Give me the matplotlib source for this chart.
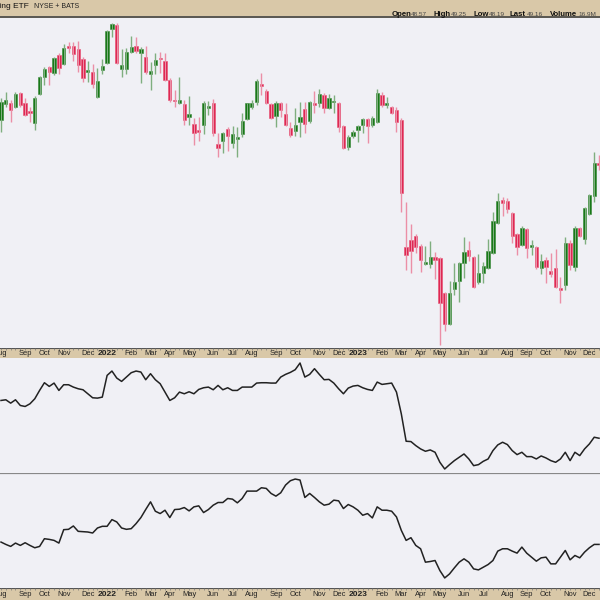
import matplotlib
matplotlib.use("Agg")
import matplotlib.pyplot as plt
import numpy as np
import pandas as pd

plt.rcParams["font.family"] = ["Liberation Sans", "DejaVu Sans"]

# weekly bars, KRE, Aug 2021 - Dec 2023
weeks = pd.date_range("2021-08-02", periods=125, freq="W-MON")

opens = [65.0, 67.0, 67.13, 66.63, 68.38, 67.13, 66.13, 64.63, 68.25, 70.38,
         71.63, 70.88, 73.13, 72.0, 74.25, 74.25, 73.88, 72.63, 71.0, 71.0,
         67.88, 71.25, 72.13, 76.38, 76.88, 71.38, 71.38, 73.5, 74.25, 73.38,
         72.88, 70.75, 71.88, 72.75, 72.38, 70.0, 67.5, 67.13, 67.0, 65.38,
         64.5, 63.75, 64.38, 66.5, 67.13, 62.0, 62.38, 63.88, 62.13, 62.63,
         63.25, 65.13, 66.63, 67.25, 69.5, 68.63, 67.0, 65.5, 67.13, 65.75,
         64.0, 63.63, 64.75, 66.38, 64.88, 67.13, 67.13, 68.13, 66.5, 67.25,
         67.13, 64.25, 61.63, 63.0, 63.75, 64.38, 65.13, 64.38, 64.75, 68.13,
         66.88, 66.63, 66.25, 65.0, 49.13, 50.0, 50.5, 49.25, 47.0, 47.0,
         47.88, 47.75, 43.38, 39.5, 43.88, 44.88, 47.13, 48.75, 47.88, 44.75,
         45.88, 46.5, 48.38, 52.13, 55.0, 54.88, 53.38, 50.75, 49.38, 51.38,
         49.13, 49.13, 46.5, 47.5, 46.13, 46.5, 44.0, 44.38, 49.63, 46.63,
         51.5, 50.13, 53.25, 55.5, 59.63]
closes = [67.25, 67.5, 66.25, 68.25, 66.88, 65.63, 65.88, 67.75, 70.38, 71.38,
          71.0, 72.75, 71.5, 74.0, 74.0, 73.25, 71.88, 70.25, 71.25, 69.5,
          69.88, 71.75, 76.13, 77.0, 72.13, 71.88, 73.5, 74.13, 73.63, 73.88,
          71.0, 71.13, 72.5, 72.63, 70.0, 67.5, 67.38, 67.5, 65.0, 65.75,
          63.38, 63.5, 67.13, 66.75, 63.38, 61.5, 63.38, 63.0, 63.25, 62.88,
          64.88, 67.13, 67.13, 69.88, 69.25, 67.13, 65.25, 67.13, 66.25, 64.38,
          63.13, 64.38, 65.38, 64.5, 67.25, 66.88, 68.25, 66.5, 67.75, 67.38,
          64.13, 61.5, 62.88, 63.5, 64.25, 65.13, 64.25, 65.25, 68.38, 66.88,
          67.13, 65.88, 64.75, 55.88, 48.13, 48.63, 49.13, 47.5, 47.25, 47.88,
          47.5, 42.13, 39.5, 43.38, 44.75, 47.13, 48.5, 48.0, 44.13, 45.88,
          46.75, 48.63, 52.38, 54.88, 54.63, 53.88, 50.5, 49.13, 51.5, 49.0,
          49.38, 46.63, 47.38, 46.63, 45.75, 44.13, 43.75, 49.63, 46.88, 51.5,
          50.5, 54.0, 55.63, 59.63, 59.38]
highs = [67.75, 68.5, 67.5, 68.5, 68.5, 67.75, 66.63, 68.0, 70.5, 71.63,
         71.75, 72.88, 73.38, 74.5, 74.75, 74.75, 74.88, 72.88, 72.38, 72.0,
         71.5, 72.63, 76.25, 77.13, 77.13, 73.88, 74.0, 75.5, 75.38, 74.13,
         74.25, 72.25, 73.38, 73.5, 73.38, 70.25, 68.75, 70.38, 67.5, 68.0,
         65.25, 65.38, 67.38, 67.38, 67.63, 63.38, 63.5, 64.13, 64.25, 64.13,
         65.88, 67.13, 67.5, 70.13, 70.88, 68.88, 67.13, 67.38, 67.25, 67.13,
         64.75, 66.5, 67.25, 67.25, 67.38, 68.63, 68.88, 68.38, 68.25, 68.13,
         67.25, 64.38, 63.13, 63.75, 64.38, 65.25, 65.25, 65.5, 68.88, 68.5,
         67.88, 66.75, 66.63, 65.25, 54.75, 52.0, 50.75, 49.5, 49.25, 49.88,
         48.5, 47.88, 43.5, 44.88, 47.13, 47.25, 50.38, 49.88, 48.0, 48.25,
         47.25, 50.13, 53.5, 55.88, 55.38, 55.25, 53.5, 50.88, 51.75, 51.5,
         50.0, 49.25, 48.25, 47.88, 48.38, 48.88, 45.38, 50.38, 50.0, 51.75,
         51.63, 54.13, 55.75, 61.0, 60.63]
lows = [63.5, 66.63, 64.75, 66.5, 66.63, 65.5, 64.75, 63.75, 68.13, 69.38,
        69.38, 70.63, 70.75, 71.88, 73.38, 72.38, 71.0, 69.75, 69.75, 69.0,
        67.75, 70.75, 72.0, 75.38, 72.0, 70.38, 70.75, 73.38, 73.38, 69.63,
        70.75, 68.75, 70.75, 70.88, 69.88, 67.25, 66.63, 67.0, 64.38, 64.38,
        61.88, 62.38, 63.25, 65.63, 63.0, 60.38, 60.88, 61.13, 61.5, 60.38,
        62.88, 65.0, 66.38, 66.88, 68.13, 67.0, 65.13, 64.13, 65.38, 64.25,
        62.88, 63.0, 62.88, 63.38, 64.63, 65.88, 66.63, 65.88, 66.38, 65.88,
        63.5, 61.38, 61.25, 62.75, 62.25, 63.38, 62.13, 64.13, 64.63, 66.63,
        66.5, 65.75, 63.5, 53.5, 46.25, 45.88, 48.38, 46.0, 46.88, 46.5,
        45.13, 36.88, 38.63, 39.38, 43.13, 42.25, 45.25, 47.38, 44.0, 44.5,
        44.63, 46.38, 48.25, 52.0, 53.0, 53.38, 49.63, 48.13, 49.25, 47.75,
        48.13, 46.38, 45.75, 44.63, 45.38, 44.0, 42.13, 43.75, 46.25, 46.13,
        50.38, 49.5, 53.13, 54.75, 58.75]

# lower indicator panels (weekly closes)
ind1 = [21.0, 21.2, 20.2, 21.2, 19.5, 19.2, 20.0, 21.5, 24.0, 26.3,
        25.2, 26.2, 24.0, 25.7, 25.7, 25.0, 24.5, 24.2, 23.0, 21.8,
        21.7, 22.0, 28.5, 29.8, 27.7, 26.7, 28.0, 29.3, 29.8, 29.5,
        27.2, 29.0, 27.2, 26.0, 23.5, 21.0, 21.8, 23.5, 23.0, 23.6,
        23.0, 24.3, 24.8, 25.0, 24.2, 25.5, 24.2, 24.8, 24.0, 24.0,
        25.0, 25.0, 25.0, 26.2, 26.3, 26.3, 26.2, 26.2, 28.0, 28.8,
        29.4, 30.2, 32.2, 28.0, 28.8, 30.5, 28.8, 27.2, 27.3, 26.2,
        24.5, 23.0, 24.7, 25.3, 25.5, 24.8, 24.3, 24.0, 26.5, 25.8,
        26.0, 26.2, 23.5, 17.0, 8.8, 8.7, 7.5, 6.5, 5.8, 6.2,
        5.5, 2.5, 0.5, 1.8, 3.0, 4.0, 5.0, 3.5, 1.5, 1.8,
        2.8, 3.5, 6.0, 7.7, 8.5, 7.8, 6.0, 4.8, 5.5, 4.2,
        4.2, 3.5, 4.4, 3.8, 3.0, 2.5, 3.5, 5.5, 3.0, 5.5,
        4.5, 6.5, 8.0, 10.0, 9.7]
ind2 = [15.5, 14.8, 14.2, 15.2, 14.5, 15.3, 14.5, 13.8, 14.2, 16.5,
        16.3, 16.0, 15.2, 19.2, 19.3, 20.3, 18.7, 18.6, 18.5, 18.2,
        19.7, 20.2, 20.2, 22.2, 21.5, 19.7, 19.3, 19.5, 21.0, 22.8,
        25.2, 27.5, 24.7, 24.0, 25.0, 22.8, 25.2, 25.3, 25.8, 24.8,
        26.0, 26.3, 24.3, 25.2, 26.5, 27.3, 27.3, 28.5, 28.3, 27.2,
        28.5, 30.7, 30.7, 30.7, 31.7, 31.5, 30.0, 29.2, 30.2, 32.5,
        33.8, 34.3, 34.0, 28.8, 30.0, 28.8, 27.5, 26.5, 26.8, 28.0,
        27.8, 25.5, 26.7, 26.0, 25.0, 23.5, 24.0, 22.7, 26.0, 25.0,
        25.0, 24.7, 23.0, 19.0, 16.0, 16.8, 14.5, 13.5, 9.5, 9.7,
        10.0, 7.0, 4.8, 6.0, 7.8, 9.5, 10.5, 9.5, 7.5, 7.2,
        8.0, 8.8, 10.0, 12.8, 13.5, 13.5, 12.8, 12.2, 14.0, 12.2,
        11.0, 9.8, 10.8, 11.0, 9.0, 9.0, 11.0, 13.0, 10.2, 11.5,
        10.8, 12.5, 13.8, 14.8, 14.8]

tan = "#d9c8a8"
bg = "#f0f0f5"
up_col, dn_col = "#006b00", "#dc1040"
up_wick, dn_wick = "#7fae7f", "#eb8fa6"

W = H = 600
fig = plt.figure(figsize=(6, 6), dpi=100)
fig.patch.set_facecolor(bg)


def add(top, bottom):
    a = fig.add_axes([0, 1 - bottom / H, 1, (bottom - top) / H])
    a.set_xticks([])
    a.set_yticks([])
    for s in a.spines.values():
        s.set_visible(False)
    return a


x = np.arange(len(opens))
xlim = (-0.21, 124.2)
o, c = np.array(opens), np.array(closes)
up = c >= o

# header
hd = add(0, 18)
hd.set_facecolor(tan)
hd.set_xlim(0, W)
hd.set_ylim(18, 0)
hd.axhline(17.3, color="#444", lw=1.2)
hd.text(29, 6.5, "SPDR S&P Regional Banking ETF", ha="right", va="center",
        fontsize=6.0, color="#111")
hd.text(34, 6.5, "NYSE + BATS", ha="left", va="center", fontsize=5.0, color="#222")
parts = [("Open", 392, True), ("48.57", 411, False), ("High", 433, True),
         ("49.25", 451, False), ("Low", 473, True), ("48.19", 489, False),
         ("Last", 509, True), ("49.16", 527, False), ("Volume", 550, True),
         ("16.9M", 578, False)]
for t, px, b in parts:
    hd.text(px, 14.0, t, ha="left", va="center", fontsize=5.6 if b else 4.6,
            fontweight="bold" if b else "normal", color="#111" if b else "#444")

# price panel
ax = add(18, 348)
ax.set_facecolor(bg)
ax.vlines(x, lows, highs, colors=np.where(up, up_wick, dn_wick), lw=1.0)
ax.bar(x, np.maximum(np.abs(c - o), 0.15), bottom=np.minimum(o, c), width=0.68,
       color=np.where(up, up_col, dn_col), edgecolor=np.where(up, "#3c8a3c", "#e85575"),
       linewidth=0.4)
ax.set_xlim(*xlim)
ax.set_ylim(36.5, 77.75)


def date_band(a):
    a.set_facecolor(tan)
    a.set_xlim(*xlim)
    a.set_ylim(0, 1)
    a.axhline(0.97, color="#555", lw=0.8)
    a.axhline(0.03, color="#777", lw=0.6)
    a.vlines(x, 0.8, 0.97, color="#777", lw=0.5)
    for i, d in enumerate(weeks):
        if i == 0 or d.month != weeks[i - 1].month:
            jan = d.month == 1
            a.text(i, 0.42, str(d.year) if jan else d.strftime("%b"), ha="center",
                   va="center", fontsize=6.0 if jan else 5.4,
                   fontweight="bold" if jan else "normal", color="#222")


date_band(add(348, 358))

p2 = add(358, 473)
p2.set_facecolor(bg)
p2.plot(x, ind1, color="#222", lw=1.1)
p2.set_xlim(*xlim)
p2.set_ylim(-0.7, 33.7)

p3 = add(473, 588)
p3.set_facecolor(bg)
p3.plot(x, ind2, color="#222", lw=1.1)
p3.set_xlim(*xlim)
p3.set_ylim(1.8, 36.1)
p3.axhline(36.1, color="#888", lw=1.6)

date_band(add(588, 600))

fig.savefig("out.png", dpi=100, facecolor=fig.get_facecolor())
